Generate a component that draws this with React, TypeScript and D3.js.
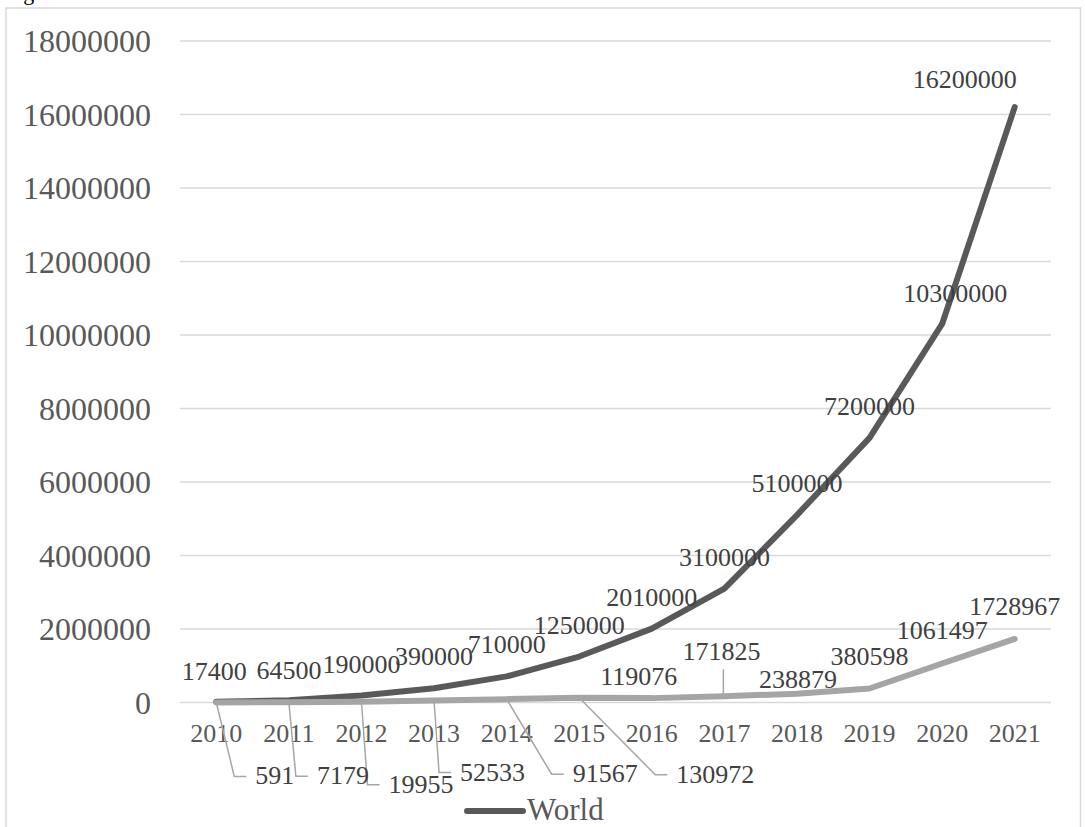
import * as d3 from 'd3';

const years = ['2010', '2011', '2012', '2013', '2014', '2015', '2016', '2017', '2018', '2019', '2020', '2021'];
const worldValues = [17400, 64500, 190000, 390000, 710000, 1250000, 2010000, 3100000, 5100000, 7200000, 10300000, 16200000];
const secondValues = [591, 7179, 19955, 52533, 91567, 130972, 119076, 171825, 238879, 380598, 1061497, 1728967];
const yTicks = [0, 2000000, 4000000, 6000000, 8000000, 10000000, 12000000, 14000000, 16000000, 18000000];
const legendLabel = 'World';

const W = 1085;
const H = 827;
const font = '"Liberation Serif", "Times New Roman", serif';

// manual nudges for labels that were moved off the default "above" spot
const worldShift: Record<number, [number, number]> = { 0: [-2, 1], 1: [0, 2], 10: [13, 1], 11: [-50, 4] };
const secondShift: Record<number, [number, number]> = { 6: [-13, 11], 7: [-3, -12], 8: [1, 18] };
// labels dragged below the axis with an elbow leader: [left edge dx, baseline dy]
const secondCallouts: Record<number, [number, number]> = {
  0: [39, 82], 1: [28, 82], 2: [27, 91], 3: [26, 80], 4: [66, 83], 5: [97, 85],
};

export default function App() {
  const x = d3.scaleBand().domain(years).range([180, 1051]);
  const y = d3.scaleLinear().domain([0, 18000000]).range([702.5, 41]);
  const cx = (i: number) => (x(years[i]) as number) + x.bandwidth() / 2;

  const line = d3.line<number>()
    .x((_, i) => cx(i))
    .y(d => y(d))
    .curve(d3.curveLinear);

  return (
    <svg width={W} height={H} style={{ position: 'absolute', left: 0, top: 0, background: '#fff' }}>
      <rect x={0} y={0} width={W} height={H} fill="#fff" />
      <text x={5} y={0} fontFamily={font} fontSize={22} fill="#000">Figure</text>
      <rect x={6} y={8} width={1074.5} height={H + 20} fill="none" stroke="#d9d9d9" strokeWidth={1.5} />

      {yTicks.map(t => (
        <g key={t}>
          <line x1={180} x2={1051} y1={y(t)} y2={y(t)} stroke="#d9d9d9" strokeWidth={1.5} />
          <text x={151} y={y(t)} dy="0.35em" textAnchor="end" fontFamily={font} fontSize={32} fill="#595959">{t}</text>
        </g>
      ))}

      {years.map((yr, i) => (
        <text key={yr} x={cx(i)} y={742} textAnchor="middle" fontFamily={font} fontSize={26} fill="#595959">{yr}</text>
      ))}

      <path d={line(worldValues) || ''} fill="none" stroke="#595959" strokeWidth={6} strokeLinejoin="round" strokeLinecap="round" />
      <path d={line(secondValues) || ''} fill="none" stroke="#a5a5a5" strokeWidth={6} strokeLinejoin="round" strokeLinecap="round" />

      {secondValues.map((v, i) => {
        const c = secondCallouts[i];
        if (!c) return null;
        const px = cx(i);
        const py = y(v);
        const left = px + c[0];
        const ly = py + c[1] - 8;
        return (
          <path key={'ld' + i} d={`M${px},${py}L${left - 21},${ly}L${left - 9},${ly}`} fill="none" stroke="#a6a6a6" strokeWidth={1.5} />
        );
      })}
      <line x1={cx(7) - 1} x2={cx(7) - 1} y1={y(secondValues[7])} y2={y(secondValues[7]) - 27} stroke="#a6a6a6" strokeWidth={1.5} />

      {worldValues.map((v, i) => {
        const s = worldShift[i] || [0, 0];
        return (
          <text key={'w' + i} x={cx(i) + s[0]} y={y(v) - 23 + s[1]} textAnchor="middle" fontFamily={font} fontSize={26} fill="#404040">{v}</text>
        );
      })}

      {secondValues.map((v, i) => {
        const c = secondCallouts[i];
        if (c) {
          return (
            <text key={'s' + i} x={cx(i) + c[0]} y={y(v) + c[1]} textAnchor="start" fontFamily={font} fontSize={26} fill="#404040">{v}</text>
          );
        }
        const s = secondShift[i] || [0, 0];
        return (
          <text key={'s' + i} x={cx(i) + s[0]} y={y(v) - 24 + s[1]} textAnchor="middle" fontFamily={font} fontSize={26} fill="#404040">{v}</text>
        );
      })}

      <line x1={467} x2={523} y1={811} y2={811} stroke="#595959" strokeWidth={6} strokeLinecap="round" />
      <text x={527} y={820} fontFamily={font} fontSize={31} fill="#595959">{legendLabel}</text>
    </svg>
  );
}
